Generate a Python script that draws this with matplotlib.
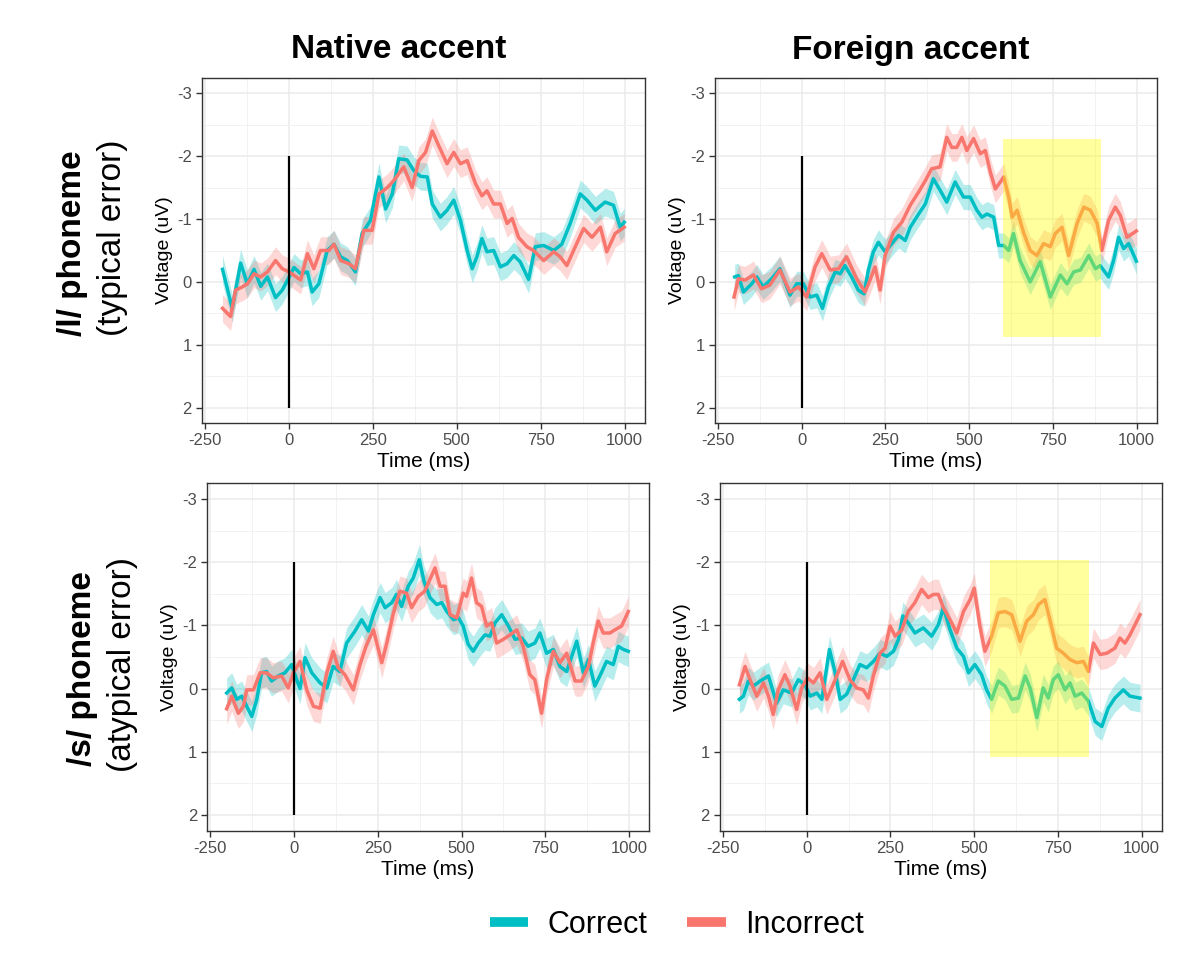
import matplotlib
matplotlib.use("Agg")
import matplotlib.pyplot as plt
from matplotlib.lines import Line2D
import numpy as np

plt.rcParams['font.family'] = ['Liberation Sans', 'DejaVu Sans']
plt.rcParams['axes.unicode_minus'] = False

COL_CORRECT = "#00BFC4"
COL_INCORRECT = "#F8766D"

# ---------------- data: /l/ phoneme, native accent ----------------
l_nat_cor_t = [-198,-169,-144,-124,-104,-84,-64,-40,-20,0,15,35,55,69,89,114,134,154,174,198,218,243,268,288,308,327,352,372,392,412,427,451,471,491,511,531,546,560,575,590,610,630,650,670,689,714,734,759,789,813,838,868,888,913,942,967,987,999]
l_nat_cor_v = [-0.2,0.42,-0.3,0.03,-0.2,0.07,-0.08,0.25,0.13,-0.07,-0.23,-0.13,-0.16,0.16,0.03,-0.5,-0.6,-0.4,-0.34,-0.16,-0.77,-0.98,-1.67,-1.16,-1.4,-1.96,-1.94,-1.77,-1.68,-1.67,-1.24,-1.03,-1.14,-1.3,-0.98,-0.5,-0.21,-0.4,-0.69,-0.48,-0.5,-0.24,-0.29,-0.42,-0.32,-0.04,-0.56,-0.58,-0.5,-0.6,-0.93,-1.4,-1.3,-1.14,-1.27,-1.22,-0.87,-0.95]
l_nat_inc_t = [-198,-174,-159,-139,-124,-104,-84,-64,-40,-20,0,35,55,74,94,119,134,154,179,198,223,248,268,293,312,342,367,387,407,427,446,471,491,511,531,556,575,590,610,630,650,665,684,709,729,759,789,808,828,853,878,903,928,947,972,999]
l_nat_inc_v = [0.42,0.55,0.13,0.08,0.03,-0.13,-0.08,-0.16,-0.34,-0.21,-0.16,-0.03,-0.45,-0.21,-0.5,-0.5,-0.6,-0.34,-0.29,-0.21,-0.82,-0.82,-1.4,-1.5,-1.61,-1.83,-1.5,-1.93,-2.06,-2.4,-2.17,-1.88,-2.06,-1.88,-1.93,-1.56,-1.37,-1.45,-1.24,-1.24,-0.93,-1.01,-0.71,-0.56,-0.5,-0.34,-0.48,-0.4,-0.26,-0.56,-0.85,-0.71,-0.87,-0.48,-0.77,-0.87]

# ---------------- data: /l/ phoneme, foreign accent ----------------
l_for_cor_t = [-200,-189,-174,-149,-134,-115,-90,-65,-35,-15,5,25,45,62,80,100,115,129,149,169,186,199,214,229,249,269,289,309,324,349,369,393,413,433,458,483,503,523,538,553,573,588,603,618,632,652,682,712,742,772,792,812,832,857,877,891,916,931,946,961,976,999]
l_for_cor_v = [-0.08,-0.1,0.16,0.03,-0.08,0.08,-0.05,-0.21,0.21,0.03,0.03,0.24,0.21,0.42,0.08,-0.16,-0.13,-0.26,-0.08,0.13,0.19,-0.19,-0.48,-0.63,-0.48,-0.61,-0.74,-0.66,-0.87,-1.08,-1.24,-1.64,-1.46,-1.27,-1.59,-1.35,-1.35,-1.14,-1.03,-1.08,-1.03,-0.58,-0.58,-0.5,-0.77,-0.34,0.0,-0.32,0.24,-0.11,0.03,-0.16,-0.19,-0.42,-0.21,-0.26,-0.08,-0.34,-0.71,-0.53,-0.61,-0.33]
l_for_inc_t = [-202,-189,-169,-144,-120,-95,-65,-35,-10,15,40,60,85,110,134,164,189,204,219,234,249,274,299,324,349,369,388,413,433,448,463,478,493,513,533,548,563,578,593,603,618,628,643,662,682,702,722,742,757,777,797,822,842,862,882,896,916,936,951,971,999]
l_for_inc_v = [0.24,-0.05,-0.03,-0.11,0.11,0.05,-0.19,0.16,0.08,0.24,-0.24,-0.45,-0.19,-0.21,-0.4,-0.05,0.16,-0.03,-0.24,0.13,-0.42,-0.79,-0.95,-1.22,-1.43,-1.61,-1.8,-1.83,-2.3,-2.14,-2.14,-2.3,-2.09,-2.28,-2.04,-2.09,-1.75,-1.48,-1.59,-1.67,-1.35,-1.03,-1.14,-0.79,-0.5,-0.42,-0.61,-0.56,-0.77,-0.87,-0.42,-0.93,-1.19,-1.14,-0.93,-0.5,-0.98,-1.19,-1.06,-0.71,-0.81]

# ---------------- data: /s/ phoneme, native accent ----------------
s_nat_cor_t = [-201,-186,-171,-156,-141,-126,-111,-97,-82,-67,-47,-27,-7,8,18,33,53,78,98,117,137,157,182,202,222,237,257,272,292,306,321,341,356,374,388,406,426,441,456,476,491,505,520,535,550,570,585,600,620,640,660,680,699,719,734,754,774,794,814,829,844,864,879,898,913,933,953,968,983,998]
s_nat_cor_v = [0.07,-0.01,0.17,0.12,0.28,0.44,0.17,-0.25,-0.27,-0.12,-0.2,-0.25,-0.38,-0.14,0.0,-0.49,-0.25,-0.09,-0.01,-0.35,-0.27,-0.72,-0.91,-1.09,-0.91,-1.17,-1.44,-1.28,-1.36,-1.49,-1.3,-1.62,-1.75,-2.04,-1.7,-1.44,-1.33,-1.36,-1.22,-1.09,-1.12,-0.99,-0.7,-0.59,-0.72,-0.85,-0.83,-1.04,-1.17,-0.99,-0.78,-0.8,-0.67,-0.72,-0.88,-0.56,-0.62,-0.35,-0.27,-0.51,-0.75,-0.25,-0.46,-0.04,-0.2,-0.43,-0.38,-0.67,-0.62,-0.59]
s_nat_inc_t = [-201,-186,-166,-151,-141,-121,-101,-82,-62,-37,-17,-2,18,38,58,78,98,117,132,152,177,197,217,237,262,277,297,316,336,351,371,390,406,421,436,451,466,486,505,515,530,545,560,575,590,605,625,645,665,684,704,719,739,754,774,794,814,839,858,879,893,908,923,943,958,978,998]
s_nat_inc_v = [0.32,0.12,0.39,0.28,0.02,0.02,-0.25,-0.25,-0.17,-0.2,-0.01,-0.25,-0.43,0.02,0.28,0.31,-0.25,-0.59,-0.33,-0.22,0.02,-0.38,-0.7,-0.93,-0.41,-0.72,-1.2,-1.54,-1.51,-1.28,-1.46,-1.54,-1.73,-1.91,-1.62,-1.62,-1.17,-1.12,-1.51,-1.46,-1.75,-1.36,-1.3,-0.99,-1.04,-0.72,-0.78,-0.85,-0.93,-0.67,-0.22,-0.14,0.39,-0.14,-0.59,-0.41,-0.56,-0.12,-0.12,-0.35,-0.72,-1.07,-0.88,-0.88,-0.93,-0.99,-1.22]

# ---------------- data: /s/ phoneme, foreign accent ----------------
s_for_cor_t = [-201,-189,-174,-159,-139,-114,-90,-70,-45,-25,-5,10,30,45,68,85,100,119,139,159,179,199,219,239,259,274,287,303,323,348,373,393,408,428,448,468,483,502,522,537,552,572,592,612,632,652,667,687,706,721,736,751,771,786,801,821,841,861,881,900,920,945,965,995]
s_for_cor_v = [0.17,0.12,-0.12,-0.04,-0.12,-0.2,0.23,0.02,0.07,-0.14,-0.06,0.12,0.07,0.17,-0.62,-0.25,0.17,0.09,-0.14,-0.38,-0.33,-0.43,-0.56,-0.51,-0.59,-0.78,-1.15,-1.04,-0.88,-0.96,-0.83,-1.01,-1.28,-0.93,-0.64,-0.51,-0.25,-0.38,-0.22,0.02,0.17,-0.12,-0.04,0.17,0.15,-0.2,-0.01,0.46,-0.01,0.15,-0.14,-0.22,0.02,-0.09,0.12,0.07,0.2,0.52,0.6,0.31,0.15,0.02,0.12,0.15]
s_for_inc_t = [-201,-184,-169,-149,-129,-114,-100,-85,-65,-50,-30,-15,2,20,40,60,85,107,129,149,169,184,199,219,234,249,264,284,303,323,343,363,378,393,408,428,448,468,488,500,517,532,552,572,592,612,637,657,677,692,711,726,746,766,786,806,826,841,856,876,896,920,935,950,965,995]
s_for_inc_v = [-0.06,-0.35,-0.14,0.12,-0.09,0.12,0.41,0.02,-0.22,-0.04,0.33,-0.01,-0.17,-0.09,-0.25,0.17,-0.14,-0.43,-0.14,-0.01,0.02,0.15,-0.2,-0.56,-0.64,-0.99,-0.83,-0.93,-1.22,-1.36,-1.57,-1.44,-1.49,-1.49,-1.28,-1.09,-0.88,-1.22,-1.41,-1.59,-0.99,-0.59,-0.83,-1.2,-1.22,-1.17,-0.75,-1.07,-1.17,-1.33,-1.41,-1.09,-0.64,-0.56,-0.46,-0.41,-0.43,-0.27,-0.72,-0.54,-0.56,-0.64,-0.8,-0.72,-0.85,-1.17]

# ribbon half-widths (standard error, uV) per series (correct, incorrect)
se_values = {"l_nat": (0.22, 0.22), "l_for": (0.2, 0.22), "s_nat": (0.24, 0.24), "s_for": (0.22, 0.24)}

# highlighted time windows (ms) and voltage extent (uV)
box_l_for = (600, 893, -2.28, 0.87)
box_s_for = (547, 843, -2.03, 1.09)

col_titles = ["Native accent", "Foreign accent"]
row_titles = [("/l/ phoneme", "(typical error)"), ("/s/ phoneme", "(atypical error)")]
legend_labels = ["Correct", "Incorrect"]
x_ticks = [-250, 0, 250, 500, 750, 1000]
y_ticks = [-3, -2, -1, 0, 1, 2]

panels = [
    ("l_nat", l_nat_cor_t, l_nat_cor_v, l_nat_inc_t, l_nat_inc_v, None),
    ("l_for", l_for_cor_t, l_for_cor_v, l_for_inc_t, l_for_inc_v, box_l_for),
    ("s_nat", s_nat_cor_t, s_nat_cor_v, s_nat_inc_t, s_nat_inc_v, None),
    ("s_for", s_for_cor_t, s_for_cor_v, s_for_inc_t, s_for_inc_v, box_s_for),
]

W, H = 1197, 974
fig = plt.figure(figsize=(W / 100, H / 100), dpi=100)

# axes rectangles in pixels: left, top, right, bottom
rects = [(201.7, 77.6, 644.7, 423.4), (714.6, 77.6, 1156.8, 423.4),
         (206.9, 483.2, 649.1, 830.8), (719.6, 483.2, 1161.8, 830.8)]

for (key, ct, cv, it, iv, box), (l, t, r, b) in zip(panels, rects):
    ax = fig.add_axes([l / W, 1 - b / H, (r - l) / W, (b - t) / H])
    se_c, se_i = se_values[key]
    for tt, vv, col, se in ((ct, cv, COL_CORRECT, se_c), (it, iv, COL_INCORRECT, se_i)):
        tt = np.asarray(tt, float)
        vv = np.asarray(vv, float)
        ax.fill_between(tt, vv - se, vv + se, color=col, alpha=0.28, lw=0, zorder=2)
    for tt, vv, col in ((ct, cv, COL_CORRECT), (it, iv, COL_INCORRECT)):
        ax.plot(tt, vv, color=col, lw=2.5, zorder=3, solid_joinstyle='round')
    ax.vlines(0, -2, 2, color='black', lw=1.6, zorder=4)
    if box is not None:
        x0, x1, y0, y1 = box
        ax.fill_between([x0, x1], [y0, y0], [y1, y1], color='#FFFF00', alpha=0.38, lw=0, zorder=5)
    ax.set_xlim(-260, 1060)
    ax.set_ylim(2.25, -3.25)
    ax.set_xticks(x_ticks)
    ax.set_yticks(y_ticks)
    ax.set_xticks([-125, 125, 375, 625, 875], minor=True)
    ax.set_yticks([-2.5, -1.5, -0.5, 0.5, 1.5], minor=True)
    ax.grid(True, which='major', color='#EBEBEB', lw=1.1, zorder=0)
    ax.grid(True, which='minor', color='#F2F2F2', lw=0.7, zorder=0)
    ax.set_axisbelow(True)
    ax.tick_params(which='major', length=4, width=1, color='#333333', labelcolor='#4D4D4D',
                   labelsize=12, pad=3)
    ax.tick_params(which='minor', length=0)
    for s in ax.spines.values():
        s.set_color('#333333')
        s.set_linewidth(1.0)
    ax.set_xlabel("Time (ms)", fontsize=15, labelpad=3)
    ax.set_ylabel("Voltage (uV)", fontsize=14, labelpad=3)

# column titles
fig.text(399 / W, 1 - 50 / H, col_titles[0], ha='center', va='center', fontsize=24, fontweight='bold')
fig.text(911 / W, 1 - 50 / H, col_titles[1], ha='center', va='center', fontsize=24, fontweight='bold')

# row titles
fig.text(72 / W, 1 - 243 / H, row_titles[0][0], rotation=90, ha='center', va='center', fontsize=24, fontweight='bold')
fig.text(113 / W, 1 - 238 / H, row_titles[0][1], rotation=90, ha='center', va='center', fontsize=24)
fig.text(82 / W, 1 - 669 / H, row_titles[1][0], rotation=90, ha='center', va='center', fontsize=24, fontweight='bold')
fig.text(123 / W, 1 - 665 / H, row_titles[1][1], rotation=90, ha='center', va='center', fontsize=24)

handles = [Line2D([], [], color=COL_CORRECT, lw=7, solid_capstyle='butt'),
           Line2D([], [], color=COL_INCORRECT, lw=7, solid_capstyle='butt')]
fig.legend(handles, legend_labels, loc='center', bbox_to_anchor=(677 / W, 1 - 925 / H), ncol=2,
           frameon=False, fontsize=22, handlelength=1.25, handletextpad=0.65, columnspacing=1.3)

fig.savefig("out.png", dpi=100)
